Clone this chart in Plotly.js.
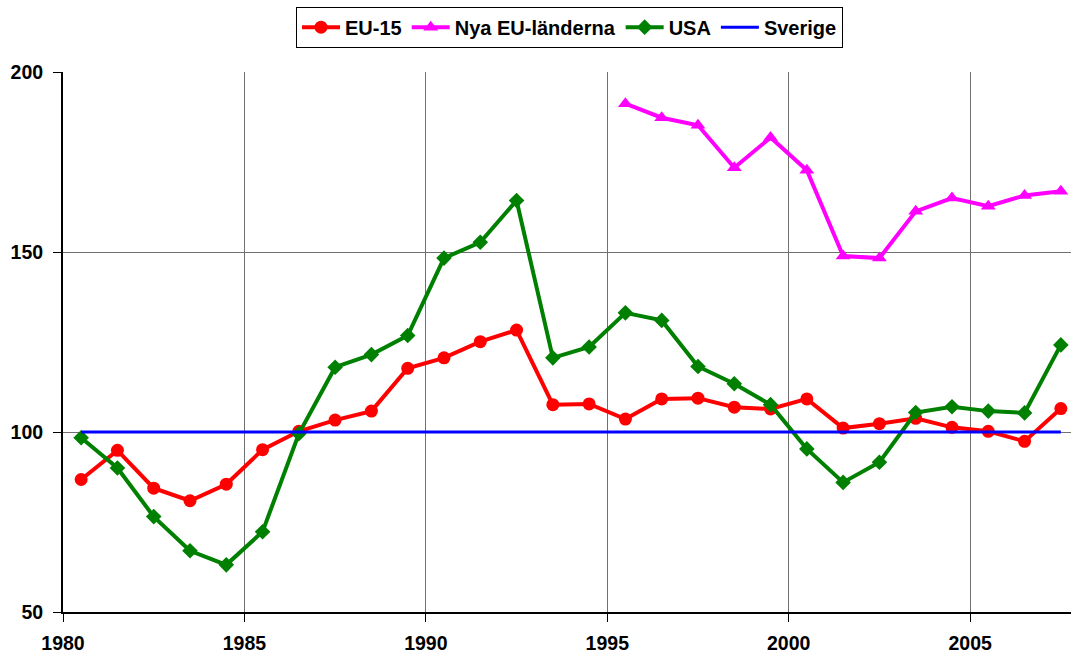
<!DOCTYPE html>
<html>
<head>
<meta charset="utf-8">
<script src="https://cdn.plot.ly/plotly-3.0.1.min.js"></script>
<style>html,body{margin:0;padding:0;background:#fff;}#chart{width:1071px;height:655px;}</style>
</head>
<body>
<div id="chart"></div>
<script>
const years = [1980,1981,1982,1983,1984,1985,1986,1987,1988,1989,1990,1991,1992,1993,1994,1995,1996,1997,1998,1999,2000,2001,2002,2003,2004,2005,2006,2007];
const eu15 = [86.8,94.9,84.4,80.9,85.5,95.1,100.2,103.3,105.8,117.7,120.6,125.1,128.3,107.6,107.8,103.6,109.2,109.4,106.9,106.4,109.2,101.1,102.3,103.8,101.3,100.2,97.4,106.5];
const nyaYears = [1995,1996,1997,1998,1999,2000,2001,2002,2003,2004,2005,2006,2007];
const nyaEU = [191.2,187.3,185.2,173.4,181.8,172.7,148.9,148.3,161.3,165.0,162.7,165.7,166.9];
const usa = [98.4,90.0,76.5,67.0,63.1,72.3,99.5,118.0,121.5,126.8,148.3,152.7,164.3,120.6,123.6,133.1,131.0,118.2,113.4,107.6,95.3,86.0,91.6,105.4,107.0,105.8,105.3,124.2];
const sverige = years.map(() => 100);
const xTicks = [1980,1985,1990,1995,2000,2005];
const yTicks = [50,100,150,200];

const mid = a => a.map(y => y + 0.5);
const FONT = 'Liberation Sans, Arial, sans-serif';

const traces = [
  {name:'EU-15', x: mid(years), y: eu15, mode:'lines+markers',
   line:{color:'#FF0000', width:4}, marker:{symbol:'circle', size:13, color:'#FF0000'}},
  {name:'Nya EU-länderna', x: mid(nyaYears), y: nyaEU, mode:'lines+markers',
   line:{color:'#FF00FF', width:4}, marker:{symbol:'triangle-up', size:13, color:'#FF00FF'}},
  {name:'USA', x: mid(years), y: usa, mode:'lines+markers',
   line:{color:'#008000', width:4}, marker:{symbol:'diamond', size:12, color:'#008000'}},
  {name:'Sverige', x: mid(years), y: sverige, mode:'lines',
   line:{color:'#0000FF', width:3}}
];

const layout = {
  width:1071, height:655,
  margin:{l:63, r:0, t:72, b:43},
  paper_bgcolor:'#fff', plot_bgcolor:'#fff',
  font:{family:FONT, color:'#000'},
  showlegend:true,
  legend:{orientation:'h', x:0.5025, xanchor:'center', y:1.121, yanchor:'top',
    bordercolor:'#000', borderwidth:1, bgcolor:'#fff',
    font:{family:FONT, size:20, color:'#000', weight:'bold'}, itemwidth:38, tracegroupgap:0},
  xaxis:{range:[1980, 2007.78], tickvals:xTicks, ticktext:xTicks.map(String),
    showgrid:true, gridcolor:'#707070', gridwidth:1,
    showline:true, linecolor:'#000', linewidth:2,
    ticks:'outside', ticklen:8, tickcolor:'#000', tickwidth:1,
    ticklabelstandoff:5,
    tickfont:{family:FONT, size:19.5, color:'#000', weight:'bold'}, zeroline:false},
  yaxis:{range:[50, 200], tickvals:yTicks, ticktext:yTicks.map(String),
    showgrid:true, gridcolor:'#707070', gridwidth:1,
    showline:true, linecolor:'#000', linewidth:2,
    ticks:'outside', ticklen:8, tickcolor:'#000', tickwidth:1,
    ticklabelstandoff:6,
    tickfont:{family:FONT, size:19.5, color:'#000', weight:'bold'}, zeroline:false}
};

Plotly.newPlot('chart', traces, layout, {displayModeBar:false, staticPlot:true});
</script>
</body>
</html>
